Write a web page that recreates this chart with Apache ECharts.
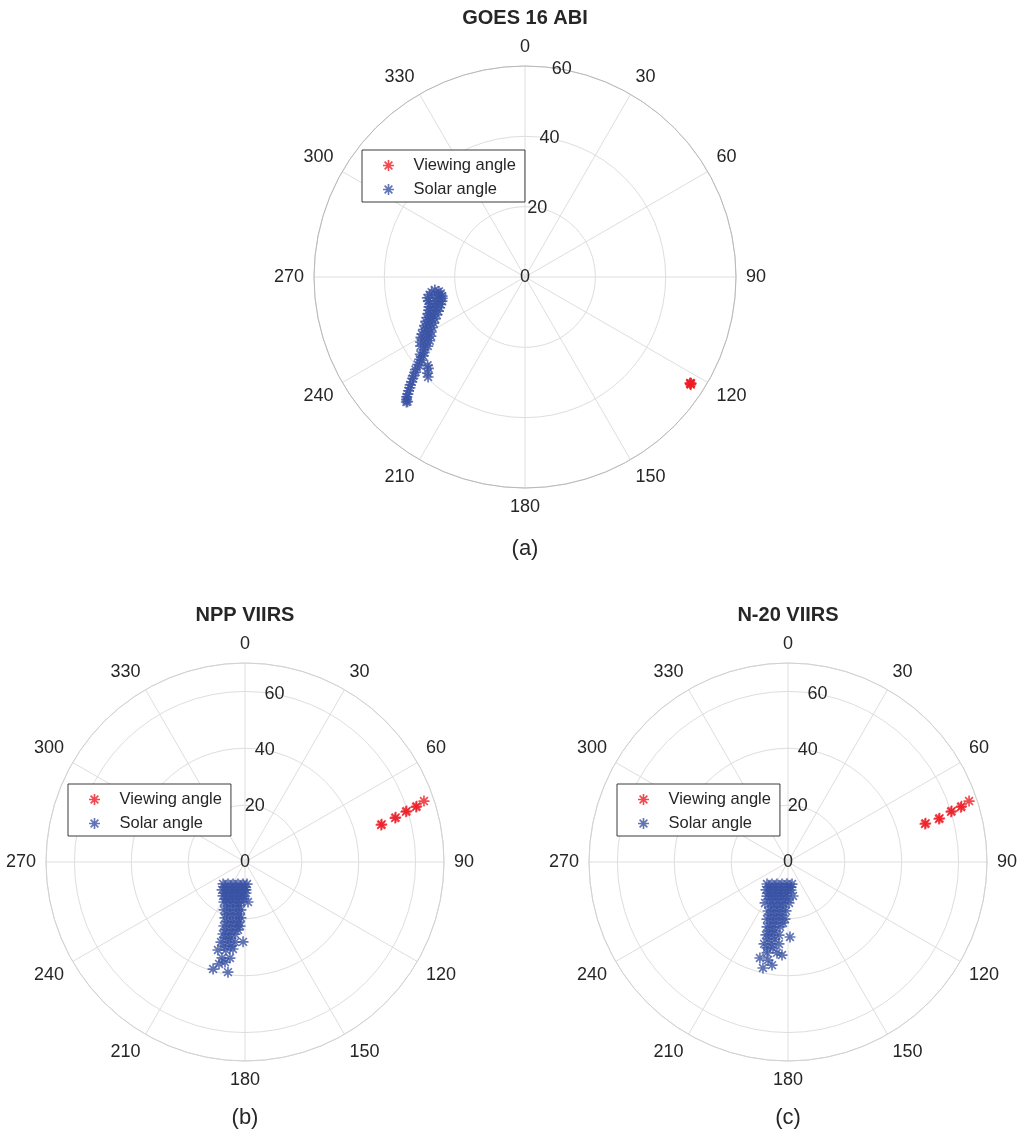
<!DOCTYPE html>
<html><head><meta charset="utf-8">
<script src="https://cdn.jsdelivr.net/npm/echarts@6/dist/echarts.min.js"></script>
<style>html,body{margin:0;padding:0;background:#fff}#c{width:1017px;height:1133px}</style>
</head><body><div id="c"></div><script>
// ---- data: [theta (deg, clockwise from north), r] ----
const panelTitles = ['GOES 16 ABI', 'NPP VIIRS', 'N-20 VIIRS'];
const panelCaptions = ['(a)', '(b)', '(c)'];
const seriesNames = ['Viewing angle', 'Solar angle'];
const radiusMax = [60, 70, 70];
const radiusTickStep = 20;
const angleTickStep = 30;

const goesViewing = [[122.9,56.0],[122.7,55.8],[123.0,56.2],[122.8,55.9],[122.6,56.1]];
const goesSolar = [
 [261.8,25.9],[260.5,24.8],[260.8,26.9],[259.0,24.4],[259.5,27.6],[258.2,25.3],[257.9,28.4],[257.0,24.2],
 [256.8,26.4],[256.1,28.3],[255.6,24.3],[255.0,26.0],[254.4,27.9],[253.8,24.6],[253.2,26.5],[252.7,28.6],
 [252.0,25.2],[251.5,27.1],[251.0,29.0],[250.2,25.8],[249.8,27.7],[249.3,29.5],[248.5,26.5],[248.0,28.4],
 [247.6,30.2],[246.8,27.3],[246.3,29.2],[245.9,30.9],[245.0,28.2],[244.6,30.0],[244.2,31.7],[243.2,29.1],
 [242.9,30.9],[242.6,32.5],[241.4,30.0],[241.2,31.8],[241.0,33.5],[239.6,30.9],[239.3,32.6],[239.9,34.2],
 [237.8,31.6],[237.6,33.4],[238.1,35.0],[236.2,32.6],[235.8,34.2],[236.5,35.6],
 [234.6,33.9],[234.2,35.4],[233.2,35.8],[233.6,37.0],[232.2,36.6],[232.0,38.0],[231.2,37.8],[230.8,39.4],
 [230.0,39.2],[229.8,40.8],[229.0,41.2],[228.5,42.4],[227.9,43.0],[227.2,43.9],[226.8,44.8],[226.1,45.4],
 [225.7,46.3],[225.0,47.1],[224.6,47.9],[224.0,48.5],[223.5,49.0],[223.3,48.7],
 [224.1,39.6],[225.4,38.9],[226.6,37.8],[227.8,37.4]
];

const nppViewing = [[74.8,49.6],[74.6,49.9],[73.7,55.0],[73.5,55.3],[72.7,59.3],[72.5,59.6],[72.2,63.2],[72.0,63.5],[71.2,66.5]];
const nppSolar = [
 [225.0,10.9],[217.7,9.8],[208.6,8.8],[197.7,8.1],[185.2,7.8],[174.8,7.8],
 [218.7,11.3],[209.2,10.1],[199.8,9.4],[189.1,8.9],[180.0,8.8],
 [219.4,12.7],[212.7,11.7],[204.9,10.9],[195.9,10.2],[186.1,9.9],[178.0,9.8],
 [212.8,13.0],[204.3,12.0],[196.2,11.4],[187.4,11.0],[178.2,10.9],
 [212.9,14.2],[206.6,13.4],[199.4,12.7],[191.6,12.2],[183.4,12.0],
 [207.2,14.6],[199.4,13.8],[190.7,13.3],[181.5,13.0],
 [207.7,15.9],[200.6,15.0],[192.7,14.4],[185.7,14.1],[175.7,14.1],
 [202.2,16.7],[195.3,16.0],[187.8,15.6],
 [203.6,18.4],[197.4,17.7],[190.6,17.2],[184.8,16.9],
 [199.1,19.4],[193.0,18.8],[186.6,18.4],
 [199.7,20.9],[194.0,20.3],[188.1,19.9],[184.1,19.7],
 [196.7,22.0],[191.3,21.5],[185.7,21.2],
 [198.2,23.7],[193.2,23.1],[188.0,22.7],[184.5,22.6],
 [195.6,24.8],[190.8,24.3],[185.9,24.0],
 [197.0,26.5],[192.5,26.0],[187.9,25.6],
 [194.7,27.6],[190.4,27.2],
 [196.7,29.4],[192.0,28.8],[187.1,28.4],[181.4,28.1],
 [194.0,30.5],[189.5,30.0],
 [197.1,32.4],[192.2,31.7],[187.9,30.9],
 [193.5,34.7],[188.9,34.2],[191.3,35.9],
 [194.3,37.0],[196.6,39.3],[188.8,39.2]
];

const n20Viewing = [[74.5,50.0],[74.3,50.3],[74.1,55.2],[73.9,55.5],[72.9,60.0],[72.7,60.3],[72.4,63.8],[72.2,64.1],[71.4,67.2]];
const n20Solar = [
 [223.7,10.7],[216.0,9.6],[206.6,8.7],[195.3,8.0],[182.6,7.7],[169.7,7.9],
 [217.2,11.0],[207.5,9.9],[195.6,9.1],[182.3,8.8],[173.2,8.9],
 [218.2,12.5],[211.3,11.5],[203.2,10.7],[194.0,10.2],[184.1,9.9],[173.9,9.9],
 [211.5,12.8],[202.8,11.8],[192.7,11.2],[181.8,10.9],
 [211.7,14.1],[203.8,13.1],[194.8,12.4],[185.0,12.0],[171.6,12.1],
 [205.9,14.5],[198.0,13.7],[189.2,13.2],[180.0,13.0],
 [209.3,16.5],[202.5,15.6],[195.0,14.9],[187.0,14.5],[178.6,14.4],
 [200.7,16.9],[193.7,16.3],[186.3,15.9],
 [202.2,18.6],[195.9,17.9],[189.3,17.5],[182.3,17.2],
 [198.8,19.7],[192.8,19.1],[186.5,18.8],
 [200.2,21.4],[194.7,20.7],[189.0,20.3],[183.0,20.1],
 [196.4,22.4],[191.1,21.9],[184.7,21.5],
 [197.9,24.0],[193.0,23.5],[187.0,23.0],
 [195.4,25.2],[190.7,24.7],
 [196.8,26.8],[192.4,26.3],[187.0,25.9],[178.5,26.4],
 [194.6,28.0],[189.6,27.5],
 [196.3,30.0],[191.7,29.4],[186.3,29.0],
 [193.7,31.1],[189.9,30.7],
 [193.0,32.8],[186.9,32.2],[183.7,32.8],
 [196.3,35.2],[191.5,35.2],[188.8,36.7],[193.3,38.3]
];

// ---- layout / style ----
const FONT = '"Liberation Sans", Arial, Helvetica, sans-serif';
const TXT = '#262626';
const RED = '#ec1c24';
const BLUE = '#3953a4';
const GRID = '#dedede';
const layouts = [
  {center:[525,277], radius:211, outer:'#b9b9b9', sym:[11,11], title:[525,18], cap:[525,549], legend:{left:362, top:150}},
  {center:[245,862], radius:199, outer:'#d2d2d2', sym:[11,11], title:[245,615], cap:[245,1118], legend:{left:68, top:784}},
  {center:[788,862], radius:199, outer:'#d2d2d2', sym:[11,11], title:[788,615], cap:[788,1118], legend:{left:617, top:784}}
];
const panelData = [[goesViewing, goesSolar],[nppViewing, nppSolar],[n20Viewing, n20Solar]];

function asteriskPath(){
  const w = 0.15, parts = [];
  [0,45,90,135].forEach(a => {
    const t = a*Math.PI/180, dx = Math.cos(t), dy = Math.sin(t), nx = -dy*w, ny = dx*w;
    const pts = [[dx+nx,dy+ny],[dx-nx,dy-ny],[-dx-nx,-dy-ny],[-dx+nx,-dy+ny]];
    parts.push('M' + pts.map(p => (p[0]*50+50).toFixed(2)+' '+(p[1]*50+50).toFixed(2)).join('L') + 'Z');
  });
  return 'path://' + parts.join('');
}
const STAR = asteriskPath();

const polar = [], angleAxis = [], radiusAxis = [], series = [], legend = [], graphic = [];
layouts.forEach((L, i) => {
  const p0 = polar.length;
  polar.push({center: L.center, radius: L.radius});
  polar.push({center: L.center, radius: L.radius});
  angleAxis.push({
    polarIndex: p0, type:'value', min:0, max:360, interval:angleTickStep, startAngle:90, clockwise:true,
    axisLine:{show:true, lineStyle:{color:L.outer, width:1}},
    axisTick:{show:false},
    splitLine:{show:true, lineStyle:{color:GRID, width:1}},
    axisLabel:{margin:10, fontSize:18, color:TXT, fontFamily:FONT, formatter: v => v === 360 ? '' : String(v)}
  });
  angleAxis.push({polarIndex: p0+1, type:'value', min:0, max:360, startAngle:80, clockwise:true, show:false});
  radiusAxis.push({
    polarIndex: p0, type:'value', min:0, max:radiusMax[i], interval:radiusTickStep,
    axisLine:{show:false}, axisTick:{show:false}, axisLabel:{show:false},
    splitLine:{show:true, lineStyle:{color:GRID, width:1}}
  });
  radiusAxis.push({
    polarIndex: p0+1, type:'value', min:0, max:radiusMax[i], interval:radiusTickStep,
    axisLine:{show:false}, axisTick:{show:false}, splitLine:{show:false},
    axisLabel:{show:true, margin:0, align:'center', verticalAlign:'middle', fontSize:18, color:TXT, fontFamily:FONT,
      formatter: v => (v % radiusTickStep === 0 ? String(v) : '')}
  });
  const [view, solar] = panelData[i];
  series.push({name: seriesNames[0], type:'scatter', coordinateSystem:'polar', polarIndex:p0,
    symbol:STAR, symbolKeepAspect:true, symbolSize:L.sym[0], itemStyle:{color:RED}, z:3,
    data: view.map(d => [d[1], d[0]])});
  series.push({name: seriesNames[1], type:'scatter', coordinateSystem:'polar', polarIndex:p0,
    symbol:STAR, symbolKeepAspect:true, symbolSize:L.sym[1], itemStyle:{color:BLUE}, z:3,
    data: solar.map(d => [d[1], d[0]])});
  legend.push({
    left:L.legend.left, top:L.legend.top, orient:'vertical', selectedMode:false,
    data: seriesNames.map(n => ({name:n, icon:STAR})),
    itemWidth:40, itemHeight:11, itemGap:7, symbolKeepAspect:true,
    padding:[7,9,4,21], borderColor:'#3a3a3a', borderWidth:1, backgroundColor:'#fff',
    textStyle:{fontSize:16.5, color:TXT, fontFamily:FONT}, z:10
  });
  graphic.push({type:'text', x:L.title[0], y:L.title[1], style:{text:panelTitles[i], fill:TXT,
    font:'bold 20px '+FONT, textAlign:'center', textVerticalAlign:'middle'}});
  graphic.push({type:'text', x:L.cap[0], y:L.cap[1], style:{text:panelCaptions[i], fill:TXT,
    font:'22px '+FONT, textAlign:'center', textVerticalAlign:'middle'}});
});

const chart = echarts.init(document.getElementById('c'), null, {renderer:'canvas'});
chart.setOption({
  backgroundColor:'#fff', animation:false,
  polar, angleAxis, radiusAxis, series, legend, graphic
});
</script></body></html>
